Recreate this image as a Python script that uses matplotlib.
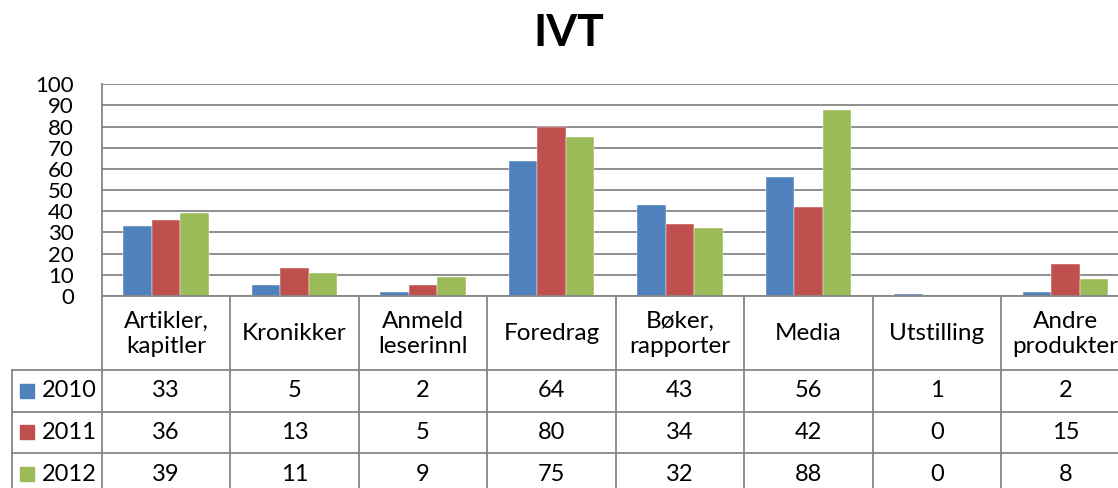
import numpy as np
import matplotlib.pyplot as plt
from matplotlib.patches import Rectangle

plt.rcParams['font.family'] = ['Lato', 'DejaVu Sans']

# Data
categories = ['Artikler,\nkapitler', 'Kronikker', 'Anmeld\nleserinnl', 'Foredrag',
              'Bøker,\nrapporter', 'Media', 'Utstilling', 'Andre\nprodukter']
years = ['2010', '2011', '2012']
v2010 = [33, 5, 2, 64, 43, 56, 1, 2]
v2011 = [36, 13, 5, 80, 34, 42, 0, 15]
v2012 = [39, 11, 9, 75, 32, 88, 0, 8]
series = [v2010, v2011, v2012]
colors = ['#4F81BD', '#C0504D', '#9BBB59']
yticks = list(range(0, 101, 10))

W, H = 1118, 488
fig = plt.figure(figsize=(W / 100, H / 100), dpi=100)

# layout in pixels
x0 = 101.7          # left edge of plot area
cw = 128.5          # width of one category column
leg_left = 12.0     # left edge of legend column in the table
y_top, y_zero = 84.3, 296.0
row_y = [296.0, 370.0, 411.7, 453.3, 495.0]
grid_c = '#868686'
lw = 1.3

n = len(categories)
ax = fig.add_axes([x0 / W, 1 - y_zero / H, n * cw / W, (y_zero - y_top) / H])
ax.set_xlim(0, n)
ax.set_ylim(0, 100)

bw = 1 / 4.5
x = np.arange(n) + 0.5
for i, (vals, c) in enumerate(zip(series, colors)):
    ax.bar(x + (i - 1) * bw, vals, width=bw, color=c, edgecolor='white',
           linewidth=0.3, zorder=3)

ax.set_yticks(yticks)
ax.set_yticklabels([str(t) for t in yticks], fontsize=16)
ax.tick_params(axis='y', length=0, pad=20)
ax.set_xticks([])
ax.grid(axis='y', color=grid_c, linewidth=lw, zorder=0)
for s in ['top', 'right', 'bottom']:
    ax.spines[s].set_visible(False)
ax.spines['left'].set_color(grid_c)
ax.spines['left'].set_linewidth(lw)
ax.axhline(0, color=grid_c, linewidth=lw, zorder=4, clip_on=False)

# data table below the plot
lx = -(x0 - leg_left) / cw
tx = fig.add_axes([leg_left / W, 1 - row_y[-1] / H, (x0 + n * cw - leg_left) / W,
                   (row_y[-1] - row_y[0]) / H])
tx.set_xlim(lx, n)
tx.set_ylim(row_y[-1], row_y[0])
tx.axis('off')

for k in range(n + 1):
    tx.plot([k, k], [row_y[0], row_y[-1]], color=grid_c, lw=lw, clip_on=False)
tx.plot([lx, lx], [row_y[1], row_y[-1]], color=grid_c, lw=lw, clip_on=False)
for yy in row_y[1:]:
    tx.plot([lx, n], [yy, yy], color=grid_c, lw=lw, clip_on=False)

for k, cat in enumerate(categories):
    tx.text(k + 0.5, (row_y[0] + row_y[1]) / 2 + 1, cat, ha='center', va='center',
            fontsize=17.5, linespacing=1.25)

sq = 14 / cw
for r, (yr, vals, c) in enumerate(zip(years, series, colors)):
    yc = (row_y[r + 1] + row_y[r + 2]) / 2
    tx.add_patch(Rectangle((lx + 8 / cw, yc - 7), sq, 14, color=c, clip_on=False))
    tx.text(lx + 30 / cw, yc, yr, ha='left', va='center', fontsize=17)
    for k, v in enumerate(vals):
        tx.text(k + 0.5, yc, str(v), ha='center', va='center', fontsize=17)

fig.text(569 / W, 1 - 33 / H, 'IVT', ha='center', va='center',
         fontsize=32, fontweight='bold')

fig.savefig('out.png', dpi=100)
